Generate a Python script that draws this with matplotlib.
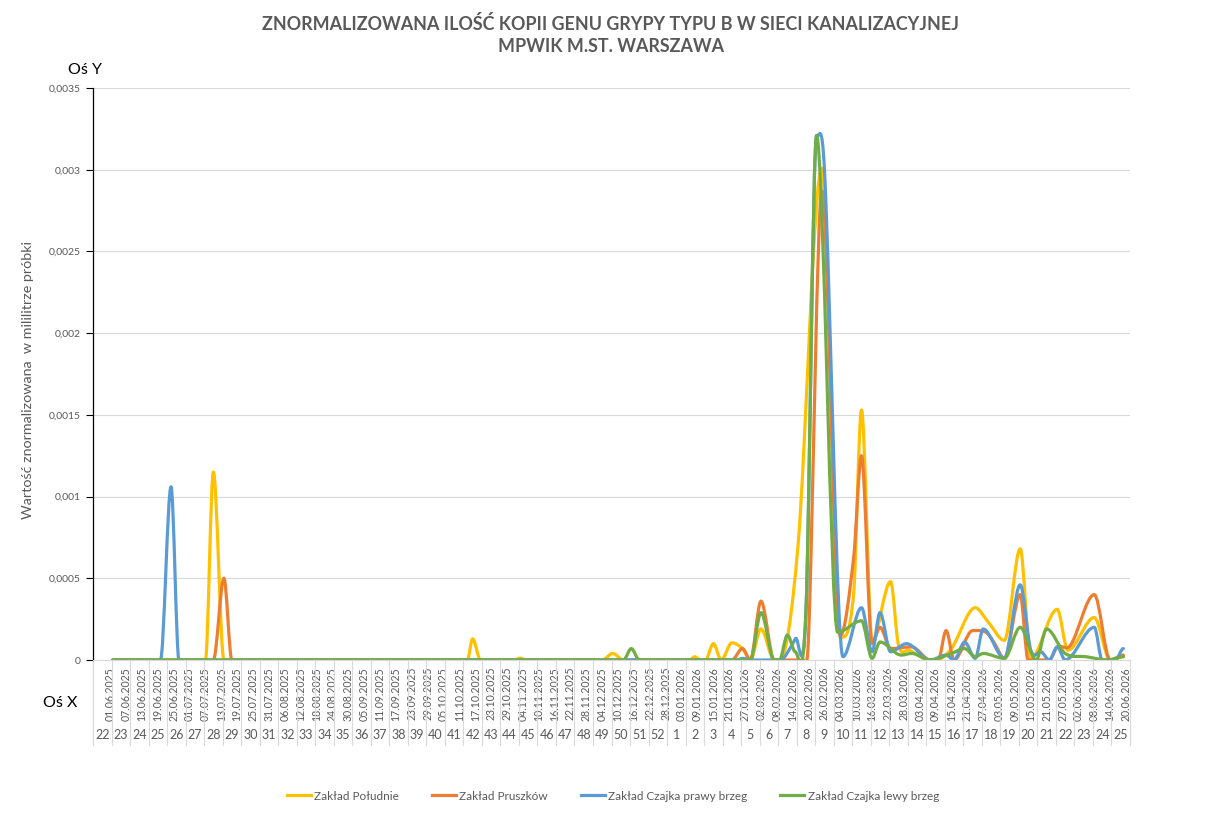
import matplotlib
matplotlib.use('Agg')
import matplotlib.pyplot as plt
import matplotlib.transforms as mtransforms
from matplotlib.path import Path
from matplotlib.patches import PathPatch
from matplotlib.lines import Line2D
from datetime import datetime, timedelta
import numpy as np

plt.rcParams['font.family'] = ['Lato', 'DejaVu Sans']

# dane (data probki, wartosc)
poludnie_daty = ['02.06.2025', '07.07.2025', '10.07.2025', '14.07.2025', '14.10.2025', '16.10.2025',
                 '19.10.2025', '01.11.2025', '03.11.2025', '05.11.2025', '04.12.2025', '08.12.2025',
                 '12.12.2025', '06.01.2026', '08.01.2026', '10.01.2026', '12.01.2026', '15.01.2026',
                 '18.01.2026', '22.01.2026', '26.01.2026', '29.01.2026', '02.02.2026', '07.02.2026',
                 '09.02.2026', '16.02.2026', '25.02.2026', '04.03.2026', '09.03.2026', '12.03.2026',
                 '16.03.2026', '23.03.2026', '26.03.2026', '30.03.2026', '07.04.2026', '09.04.2026',
                 '15.04.2026', '24.04.2026', '29.04.2026', '05.05.2026', '11.05.2026', '15.05.2026',
                 '25.05.2026', '29.05.2026', '08.06.2026', '14.06.2026', '19.06.2026']
poludnie = [0, 0, 0.00115, 0, 0, 0.00013,
            0, 0, 0.000012, 0, 0, 0.00004,
            0, 0, 0.00002, 0, 0, 0.0001,
            0, 0.000105, 0.00007, 0, 0.00019, 0,
            0, 0.0007, 0.00301, 0.00014, 0.0004, 0.00153,
            0.00012, 0.00048, 0.00009, 0.00006, 0, 0,
            0.00007, 0.00032, 0.00023, 0.00012, 0.00068, 0.00001,
            0.00031, 0.00006, 0.00026, 0, 0.00002]

pruszkow_daty = ['02.06.2025', '10.07.2025', '14.07.2025', '17.07.2025', '22.01.2026', '26.01.2026',
                 '29.01.2026', '02.02.2026', '07.02.2026', '18.02.2026', '20.02.2026', '25.02.2026',
                 '04.03.2026', '09.03.2026', '12.03.2026', '16.03.2026', '19.03.2026', '23.03.2026',
                 '31.03.2026', '07.04.2026', '10.04.2026', '13.04.2026', '16.04.2026', '23.04.2026',
                 '28.04.2026', '01.05.2026', '05.05.2026', '11.05.2026', '14.05.2026', '22.05.2026',
                 '25.05.2026', '30.05.2026', '08.06.2026', '14.06.2026', '19.06.2026']
pruszkow = [0, 0, 0.0005, 0, 0, 0.00007,
            0, 0.00036, 0, 0, 0.00015, 0.00287,
            0.00015, 0.00062, 0.00125, 0.0001, 0.0002, 0.00007,
            0.00008, 0, 0, 0.00018, 0, 0.00018,
            0.00017, 0.00011, 0.00001, 0.0004, 0, 0,
            0.00008, 0.00009, 0.0004, 0, 0.00003]

czajka_p_daty = ['02.06.2025', '20.06.2025', '24.06.2025', '27.06.2025', '24.01.2026', '26.01.2026',
                 '29.01.2026', '09.02.2026', '15.02.2026', '19.02.2026', '23.02.2026', '26.02.2026',
                 '05.03.2026', '12.03.2026', '16.03.2026', '19.03.2026', '23.03.2026', '29.03.2026',
                 '07.04.2026', '13.04.2026', '16.04.2026', '20.04.2026', '24.04.2026', '27.04.2026',
                 '05.05.2026', '11.05.2026', '15.05.2026', '19.05.2026', '22.05.2026', '25.05.2026',
                 '28.05.2026', '08.06.2026', '11.06.2026', '16.06.2026', '19.06.2026']
czajka_p = [0, 0, 0.00106, 0, 0, 0.00001,
            0, 0, 0.00013, 0.00029, 0.0032, 0.003,
            0.00002, 0.00032, 0.00005, 0.00029, 0.00005, 0.0001,
            0, 0.00003, 0, 0.00011, 0.00001, 0.00019,
            0.00001, 0.00046, 0.00006, 0.00005, 0, 0.00008,
            0, 0.0002, 0, 0, 0.00007]

czajka_l_daty = ['02.06.2025', '12.12.2025', '15.12.2025', '18.12.2025', '29.01.2026', '02.02.2026',
                 '07.02.2026', '09.02.2026', '12.02.2026', '15.02.2026', '19.02.2026', '23.02.2026',
                 '03.03.2026', '12.03.2026', '16.03.2026', '19.03.2026', '27.03.2026', '31.03.2026',
                 '07.04.2026', '15.04.2026', '20.04.2026', '24.04.2026', '27.04.2026', '05.05.2026',
                 '11.05.2026', '17.05.2026', '21.05.2026', '28.05.2026', '05.06.2026', '13.06.2026',
                 '19.06.2026']
czajka_l = [0, 0, 0.00007, 0, 0, 0.00029,
            0, 0, 0.000153, 0.00005, 0.0003, 0.00321,
            0.00017, 0.00024, 0.00001, 0.00011, 0.00003, 0.00004,
            0, 0.00004, 0.00007, 0.00002, 0.00004, 0.00001,
            0.0002, 0, 0.00019, 0.00004, 0.00002, 0,
            0.00002]

tygodnie = list(range(22, 53)) + list(range(1, 26))
nazwy = ['Zakład Południe', 'Zakład Pruszków', 'Zakład Czajka prawy brzeg', 'Zakład Czajka lewy brzeg']
kolory = ['#FFC000', '#ED7D31', '#5B9BD5', '#70AD47']

start = datetime(2025, 5, 26)
szary = '#595959'


def dzien(d):
    return (datetime.strptime(d, '%d.%m.%Y') - start).days + 0.5


def gladka(ax, daty, wart, kolor):
    xs = np.array([dzien(d) for d in daty])
    ys = np.array(wart, dtype=float)
    h = np.diff(xs)
    d = np.diff(ys) / h
    m = np.zeros_like(ys)
    for i in range(1, len(xs) - 1):
        if d[i - 1] * d[i] > 0:
            m[i] = (ys[i + 1] - ys[i - 1]) / (xs[i + 1] - xs[i - 1])
    verts = [(xs[0], ys[0])]
    codes = [Path.MOVETO]
    for i in range(len(xs) - 1):
        verts += [(xs[i] + h[i] / 3, ys[i] + m[i] * h[i] / 3),
                  (xs[i + 1] - h[i] / 3, ys[i + 1] - m[i + 1] * h[i] / 3),
                  (xs[i + 1], ys[i + 1])]
        codes += [Path.CURVE4] * 3
    ax.add_patch(PathPatch(Path(verts, codes), fill=False, edgecolor=kolor, lw=2.3,
                           capstyle='round', joinstyle='round'))


fig = plt.figure(figsize=(12.21, 8.16), dpi=100)
ax = fig.add_axes([93 / 1221, 1 - 660 / 816, (1130 - 93) / 1221, (660 - 88) / 816])

serie = [(poludnie_daty, poludnie), (pruszkow_daty, pruszkow),
         (czajka_p_daty, czajka_p), (czajka_l_daty, czajka_l)]
for (daty, wart), kol in zip(serie, kolory):
    gladka(ax, daty, wart, kol)

ax.set_xlim(0, 392)
ax.set_ylim(0, 0.0035)

yt = np.arange(0, 0.00351, 0.0005)
ax.set_yticks(yt)
ax.set_yticklabels(['0'] + [('%g' % v).replace('.', ',') for v in yt[1:]], fontsize=7.5, color=szary)
ax.tick_params(axis='y', length=5, width=0.8, color='black', pad=4)
ax.grid(axis='y', color='#d9d9d9', lw=0.8)
ax.set_axisbelow(True)

for s in ['top', 'right']:
    ax.spines[s].set_visible(False)
ax.spines['left'].set_color('black')
ax.spines['left'].set_linewidth(0.9)
ax.spines['bottom'].set_color('#d9d9d9')

# os kategorii: daty co 6 dni i numery tygodni
pozycje = np.arange(6, 391, 6) + 0.5
etykiety = [(start + timedelta(days=int(p))).strftime('%d.%m.%Y') for p in pozycje]
ax.set_xticks(pozycje)
ax.set_xticklabels(etykiety, rotation=90, fontsize=7.6, color=szary)
ax.tick_params(axis='x', length=0, pad=5)

trans = mtransforms.blended_transform_factory(ax.transData, ax.transAxes)
for k in range(len(tygodnie) + 1):
    ax.plot([7 * k, 7 * k], [0, -85 / 572], color='#d9d9d9', lw=0.8, transform=trans, clip_on=False)
for k, t in enumerate(tygodnie):
    ax.text(7 * k + 3.5, -75 / 572, str(t), transform=trans, ha='center', va='center',
            fontsize=9, color=szary)

fig.text(0.5, 1 - 35 / 816, 'ZNORMALIZOWANA ILOŚĆ KOPII GENU GRYPY TYPU B W SIECI KANALIZACYJNEJ\nMPWIK M.ST. WARSZAWA',
         ha='center', va='center', fontsize=12.9, fontweight='bold', color=szary, linespacing=1.4)
fig.text(85 / 1221, 1 - 70 / 816, 'Oś Y', ha='center', va='center', fontsize=11.5, color='black')
fig.text(60 / 1221, 1 - 703 / 816, 'Oś X', ha='center', va='center', fontsize=11.5, color='black')
fig.text(28 / 1221, 1 - 380 / 816, 'Wartość znormalizowana  w mililitrze próbki', rotation=90,
         ha='center', va='center', fontsize=10.3, color=szary)

uchwyty = [Line2D([], [], color=k, lw=2.3) for k in kolory]
fig.legend(uchwyty, nazwy, loc='center', bbox_to_anchor=(0.502, 1 - 796 / 816), ncol=4,
           frameon=False, fontsize=8.5, handlelength=2.0, handletextpad=0.3, columnspacing=2.8,
           labelcolor=szary)

fig.savefig('out.png', dpi=100)
